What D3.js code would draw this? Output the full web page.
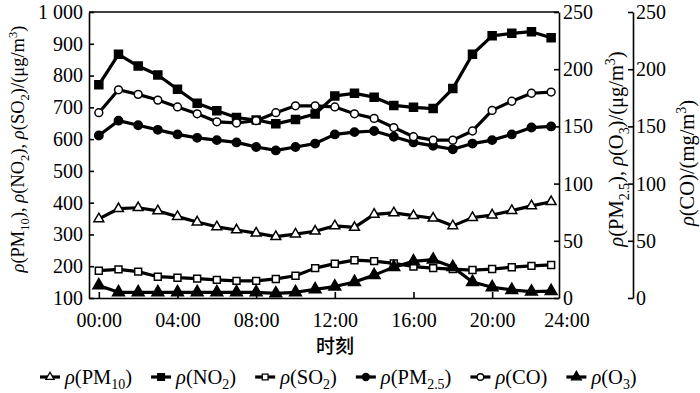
<!DOCTYPE html>
<html>
<head>
<meta charset="utf-8">
<script src="https://cdn.jsdelivr.net/npm/d3@7"></script>
<style>
body { margin: 0; background: #fff; }
svg text { font-family: "Liberation Serif", "DejaVu Serif", serif; fill: #000; }
.axis path, .axis line { stroke: #000; stroke-width: 1.6; }
</style>
</head>
<body>
<svg id="chart" width="700" height="393"></svg>
<script>
// hourly values, 00:00 .. 23:00
const hours = d3.range(24);
const pm10 = [349, 381, 384, 374, 356, 339, 324, 314, 304, 293, 301, 310, 327, 322, 363, 368, 359, 351, 327, 353, 361, 375, 390, 403];
const no2  = [771, 867, 830, 802, 757, 713, 689, 668, 660, 648, 662, 679, 736, 744, 732, 706, 700, 696, 759, 867, 925, 933, 938, 919];
const so2  = [186, 190, 183, 167, 164, 161, 157, 154, 154, 160, 170, 194, 208, 219, 216, 209, 199, 194, 191, 188, 191, 197, 201, 204];
const pm25 = [142, 155, 151, 147, 143, 140, 138, 136, 132, 129, 132, 135, 143, 145, 146, 141, 136, 133, 130, 135, 138, 143, 149, 150];
const co   = [162, 182, 178, 173, 167, 161, 154, 153, 155, 162, 168, 168, 167, 161, 157, 149, 141, 138, 138, 146, 164, 172, 179, 180];
const o3   = [11, 5, 5, 5, 5, 5, 5, 5, 5, 4, 5, 7.6, 10, 14, 20, 27, 32, 33.5, 27, 14, 9.4, 7, 5.5, 6];

const xTicks = [0, 4, 8, 12, 16, 20];
const xTickLabels = ["00:00", "04:00", "08:00", "12:00", "16:00", "20:00"];
const leftTicks = [100, 200, 300, 400, 500, 600, 700, 800, 900, 1000];
const rightTicks = [0, 50, 100, 150, 200, 250];

const svg = d3.select("#chart");
const pLeft = 89, pRight = 559, pTop = 12, pBottom = 298;
const fs = 20;

const x = d3.scaleLinear().domain([-0.5, 23.4]).range([pLeft, pRight]);
const yL = d3.scaleLinear().domain([100, 1000]).range([pBottom, pTop]);
const yR = d3.scaleLinear().domain([0, 250]).range([pBottom, pTop]);
const yCO = d3.scaleLinear().domain([0, 250]).range([pBottom, pTop]);

// rich text: italic rho, subscripts, superscripts
function rich(sel, segs, size) {
    sel.attr("font-size", size);
    let shift = 0;
    segs.forEach(s => {
        let t = sel.append("tspan").text(s.t);
        let want = s.sub ? size * 0.28 : (s.sup ? -size * 0.38 : 0);
        if (want !== shift) { t.attr("dy", want - shift); shift = want; }
        if (s.sub || s.sup) t.attr("font-size", size * 0.68);
        if (s.i) t.attr("font-style", "italic");
    });
    return sel;
}
const rho = { t: "ρ", i: true };

// axes
const gL = svg.append("g").attr("class", "axis").attr("transform", `translate(${pLeft},0)`)
    .call(d3.axisLeft(yL).tickValues(leftTicks).tickSizeInner(-5).tickSizeOuter(0).tickPadding(6)
        .tickFormat(d => d === 1000 ? "1 000" : d));
const gR = svg.append("g").attr("class", "axis").attr("transform", `translate(${pRight},0)`)
    .call(d3.axisRight(yR).tickValues(rightTicks).tickSizeInner(-5).tickSizeOuter(0).tickPadding(4));
const gC = svg.append("g").attr("class", "axis").attr("transform", `translate(633,0)`)
    .call(d3.axisRight(yCO).tickValues(rightTicks).tickSizeInner(5).tickSizeOuter(0).tickPadding(3));
gC.selectAll(".tick line").attr("x2", -5);
gC.selectAll(".tick text").attr("x", 3);
const gB = svg.append("g").attr("class", "axis").attr("transform", `translate(0,${pBottom})`)
    .call(d3.axisBottom(x).tickValues(xTicks).tickSizeInner(-6).tickSizeOuter(0).tickPadding(15)
        .tickFormat((d, i) => xTickLabels[i]));
gB.append("text").attr("x", pRight + 8).attr("y", 15).attr("dy", "0.71em")
    .attr("text-anchor", "middle").text("24:00");
svg.append("line").attr("x1", pLeft).attr("x2", pRight).attr("y1", pTop).attr("y2", pTop)
    .attr("stroke", "#000").attr("stroke-width", 1.6);
svg.selectAll(".axis text").attr("font-size", fs)
    .style("font-family", "'Liberation Serif', 'DejaVu Serif', serif").attr("fill", "#000");

// axis titles
rich(svg.append("text").attr("transform", "translate(24,149) rotate(-90)").attr("text-anchor", "middle"),
    [rho, { t: "(PM" }, { t: "10", sub: true }, { t: "), " }, rho, { t: "(NO" }, { t: "2", sub: true }, { t: "), " },
     rho, { t: "(SO" }, { t: "2", sub: true }, { t: ")/(μg/m" }, { t: "3", sup: true }, { t: ")" }], 18.5);
rich(svg.append("text").attr("transform", "translate(623,149) rotate(-90)").attr("text-anchor", "middle"),
    [rho, { t: "(PM" }, { t: "2.5", sub: true }, { t: "), " }, rho, { t: "(O" }, { t: "3", sub: true },
     { t: ")/(μg/m" }, { t: "3", sup: true }, { t: ")" }], 20.5);
rich(svg.append("text").attr("transform", "translate(694,163) rotate(-90)").attr("text-anchor", "middle"),
    [rho, { t: "(CO)/(mg/m" }, { t: "3", sup: true }, { t: ")" }], 20.5);

svg.append("text").attr("x", 335).attr("y", 353).attr("text-anchor", "middle")
    .attr("font-size", 19).attr("font-weight", 500).style("font-family", "'Noto Sans CJK SC'").text("时刻");

// series
const series = [
    { name: [rho, { t: "(PM" }, { t: "10", sub: true }, { t: ")" }], vals: pm10, y: yL, sym: d3.symbolTriangle, size: 42, fill: "#fff" },
    { name: [rho, { t: "(NO" }, { t: "2", sub: true }, { t: ")" }], vals: no2, y: yL, sym: d3.symbolSquare, size: 64, fill: "#000" },
    { name: [rho, { t: "(SO" }, { t: "2", sub: true }, { t: ")" }], vals: so2, y: yL, sym: d3.symbolSquare, size: 48, fill: "#fff" },
    { name: [rho, { t: "(PM" }, { t: "2.5", sub: true }, { t: ")" }], vals: pm25, y: yR, sym: d3.symbolCircle, size: 55, fill: "#000" },
    { name: [rho, { t: "(CO)" }], vals: co, y: yCO, sym: d3.symbolCircle, size: 48, fill: "#fff" },
    { name: [rho, { t: "(O" }, { t: "3", sub: true }, { t: ")" }], vals: o3, y: yR, sym: d3.symbolTriangle, size: 60, fill: "#000" }
];

const plot = svg.append("g");
series.forEach(s => {
    const line = d3.line().x((d, i) => x(hours[i])).y(d => s.y(d));
    plot.append("path").attr("d", line(s.vals)).attr("fill", "none")
        .attr("stroke", "#000").attr("stroke-width", 3.2).attr("stroke-linejoin", "round");
});
series.forEach(s => {
    plot.selectAll(null).data(s.vals).enter().append("path")
        .attr("transform", (d, i) => `translate(${x(hours[i])},${s.y(d)})`)
        .attr("d", d3.symbol().type(s.sym).size(s.size))
        .attr("fill", s.fill).attr("stroke", "#000").attr("stroke-width", 1.5);
});

// legend
const leg = svg.append("g").attr("transform", "translate(0,377)");
let lx = 40;
series.forEach(s => {
    leg.append("line").attr("x1", lx).attr("x2", lx + 20).attr("stroke", "#000").attr("stroke-width", 3.2);
    leg.append("path").attr("transform", `translate(${lx + 10},0)`)
        .attr("d", d3.symbol().type(s.sym).size(s.size * 0.7))
        .attr("fill", s.fill).attr("stroke", "#000").attr("stroke-width", 1.3);
    const t = rich(leg.append("text").attr("x", lx + 25).attr("y", 6.5), s.name, 20.5);
    lx += 25 + t.node().getComputedTextLength() + 19;
});
</script>
</body>
</html>
